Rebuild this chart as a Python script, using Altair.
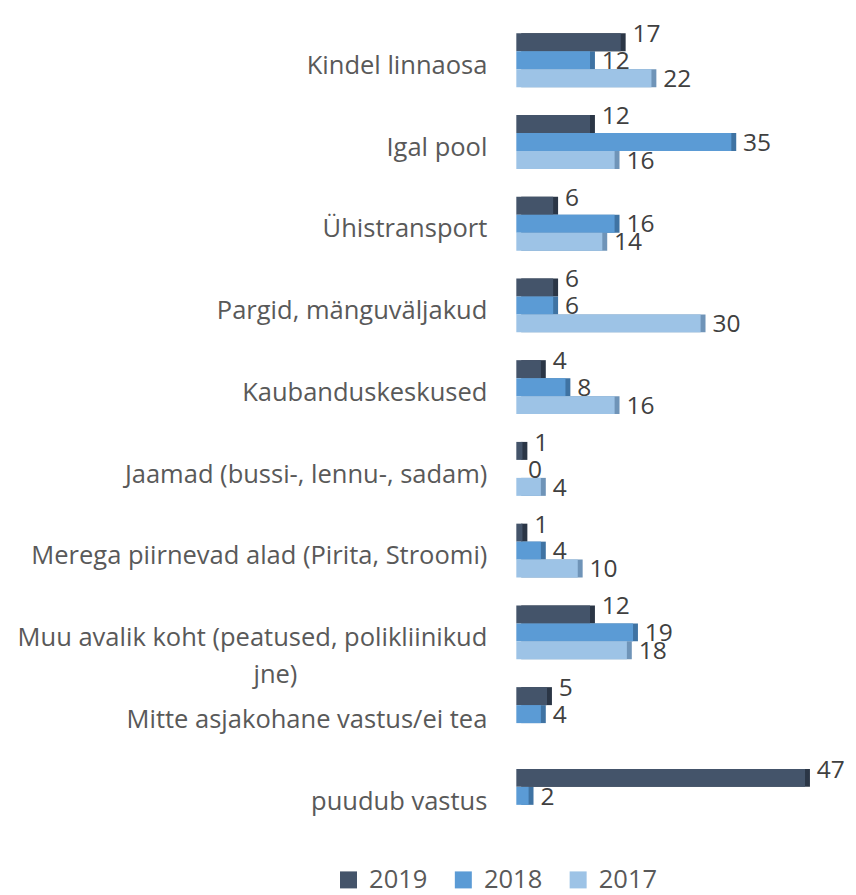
import altair as alt
import pandas as pd

categories = [
    "Kindel linnaosa",
    "Igal pool",
    "Ühistransport",
    "Pargid, mänguväljakud",
    "Kaubanduskeskused",
    "Jaamad (bussi-, lennu-, sadam)",
    "Merega piirnevad alad (Pirita, Stroomi)",
    "Muu avalik koht (peatused, polikliinikud jne)",
    "Mitte asjakohane vastus/ei tea",
    "puudub vastus",
]
series = ["2019", "2018", "2017"]
values_2019 = [17, 12, 6, 6, 4, 1, 1, 12, 5, 47]
values_2018 = [12, 35, 16, 6, 8, 0, 4, 19, 4, 2]
values_2017 = [22, 16, 14, 30, 16, 4, 10, 18, None, None]
colors = ["#44546A", "#5B9BD5", "#9DC3E6"]
shade_colors = ["#2B3646", "#3F73A3", "#6F94B8"]

rows = []
for s, vals in zip(series, [values_2019, values_2018, values_2017]):
    for c, v in zip(categories, vals):
        if v is not None:
            rows.append({"category": c, "year": s, "value": v})
df = pd.DataFrame(rows)

FONT = "Open Sans"
BLANK = "\u2800"
wrapped_line2 = "jne)" + BLANK * 10

y_enc = alt.Y(
    "category:N",
    sort=categories,
    scale=alt.Scale(paddingInner=0.34, paddingOuter=0.17),
    axis=alt.Axis(
        title=None,
        domain=False,
        ticks=False,
        labelFontSize=26,
        labelFont=FONT,
        labelColor="#595959",
        labelPadding=30,
        labelOffset=6,
        labelLimit=600,
        labelLineHeight=38,
        labelExpr="datum.label == 'Muu avalik koht (peatused, polikliinikud jne)' ? ['Muu avalik koht (peatused, polikliinikud', '"
        + wrapped_line2
        + "'] : datum.label",
    ),
)
yoff_enc = alt.YOffset("year:N", sort=series, scale=alt.Scale(paddingInner=0, paddingOuter=0))
x_enc = alt.X("value:Q", scale=alt.Scale(domain=[0, 50]), axis=None)

base = alt.Chart(df)

shadow = base.mark_bar(xOffset=5, x2Offset=5).encode(
    y=y_enc,
    yOffset=yoff_enc,
    x=x_enc,
    color=alt.Color("year:N", sort=series, scale=alt.Scale(domain=series, range=shade_colors), legend=None),
)

bars = base.mark_bar().encode(
    y=y_enc,
    yOffset=yoff_enc,
    x=x_enc,
    color=alt.Color(
        "year:N",
        sort=series,
        scale=alt.Scale(domain=series, range=colors),
        legend=alt.Legend(
            title=None,
            orient="none",
            direction="horizontal",
            legendX=-184,
            legendY=864,
            symbolType="square",
            symbolSize=300,
            symbolStrokeWidth=0,
            labelFontSize=26,
            labelFont=FONT,
            labelColor="#595959",
            labelOffset=8,
            columnPadding=23,
        ),
    ),
)

labels_2019 = base.transform_filter("datum.year == '2019'").mark_text(
    align="left", baseline="middle", dx=12, dy=-8, fontSize=25, font=FONT, color="#404040"
).encode(y=y_enc, yOffset=yoff_enc, x=x_enc, text="value:Q")

labels_other = base.transform_filter("datum.year != '2019'").mark_text(
    align="left", baseline="middle", dx=12, dy=1, fontSize=25, font=FONT, color="#404040"
).encode(y=y_enc, yOffset=yoff_enc, x=x_enc, text="value:Q")

chart = (
    alt.layer(shadow, bars, labels_2019, labels_other)
    .resolve_scale(color="independent")
    .properties(
        width=313,
        height=833,
        autosize=alt.AutoSizeParams(type="none"),
        padding={"left": 518, "top": 3, "right": 25, "bottom": 58},
        view=alt.ViewBackground(stroke="transparent", strokeWidth=0),
    )
    .configure_view(stroke="transparent", strokeWidth=0)
    .configure(background="white")
)

chart.save("out.html", embed_options={"renderer": "svg", "actions": False})
